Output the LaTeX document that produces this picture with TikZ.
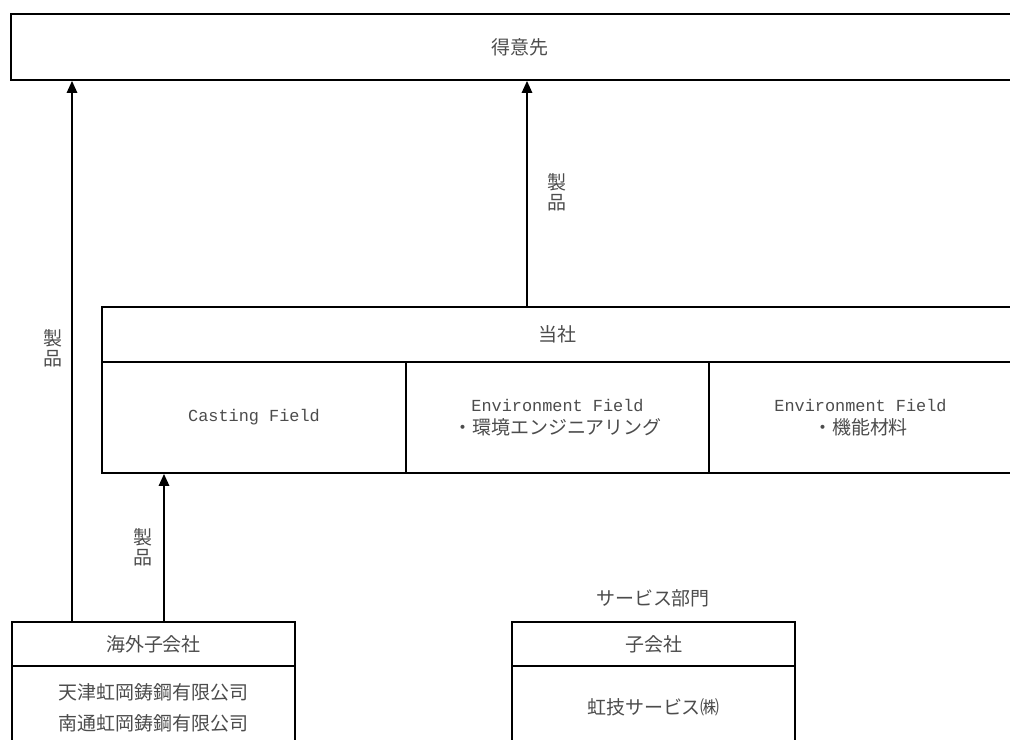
\documentclass[tikz,border=0pt]{standalone}
\usepackage{fontspec}
\setmainfont{Liberation Mono}
\newfontfamily\jp{Noto Sans CJK JP}
\usepackage{tikz}
\usetikzlibrary{calc, positioning, arrows.meta}
\newcommand{\jpsize}{\jp\fontsize{13.5pt}{16pt}\selectfont}
\tikzstyle{box}=[draw, line width=1.3pt, inner sep=0pt, text=black!70, font=\fontsize{12pt}{16pt}\selectfont, align=center]
\tikzstyle{jbox}=[box, font=\jpsize]
\tikzstyle{lbl}=[inner sep=0pt, text=black!70, font=\jp\fontsize{13.5pt}{14.2pt}\selectfont, align=center]
\tikzstyle{arr}=[line width=1.3pt, -{Triangle[length=3mm, width=2.6mm]}]
\tikzset{>=stealth}

\begin{document}
\begin{tikzpicture}[x=0.025cm, y=-0.025cm]
\useasboundingbox (0,0) rectangle (1010,740);
\clip (0,0) rectangle (1010,740);
% the customers
\node[jbox, minimum width=25.45cm, minimum height=1.65cm] (cust) at (520,47) {得意先};
% the company
\node[jbox, minimum width=22.75cm, minimum height=1.375cm] (hq) at (557,334.5) {当社};
\node[box, minimum width=7.6cm, minimum height=2.775cm] (F1) at (254,417.5) {Casting Field};
\node[box, minimum width=7.575cm, minimum height=2.775cm] (F2) at (557.5,417.5) {Environment Field\\{\jpsize ・環境エンジニアリング}};
\node[box, minimum width=7.575cm, minimum height=2.775cm] (F3) at (860.5,417.5) {Environment Field\\{\jpsize ・機能材料}};
% the subsidiaries
\node[jbox, minimum width=7.075cm, minimum height=1.1cm] (ovs) at (153.5,644) {海外子会社};
\node[jbox, font=\jp\fontsize{13.5pt}{22pt}\selectfont, minimum width=7.075cm, minimum height=2.075cm] (ovsB) at (153.5,707.5) {天津虹岡鋳鋼有限公司\\南通虹岡鋳鋼有限公司};
\node[jbox, minimum width=7.075cm, minimum height=1.1cm] (sub) at (653.5,644) {子会社};
\node[jbox, minimum width=7.075cm, minimum height=2.075cm] (subB) at (653.5,707.5) {虹技サービス㈱};
\node[lbl] (svc) at (653,598) {サービス部門};
% the flows
\coordinate (lx) at (72,0);
\coordinate (mx) at (527,0);
\coordinate (cx) at (164,0);
\draw[arr] (ovs.north -| lx) -- (cust.south -| lx);
\draw[arr] (hq.north -| mx) -- (cust.south -| mx);
\draw[arr] (ovs.north -| cx) -- (F1.south -| cx);
\node[lbl] (p1) at (53,348) {製\\品};
\node[lbl] (p2) at (557,192) {製\\品};
\node[lbl] (p3) at (143,547) {製\\品};
\end{tikzpicture}
\end{document}
